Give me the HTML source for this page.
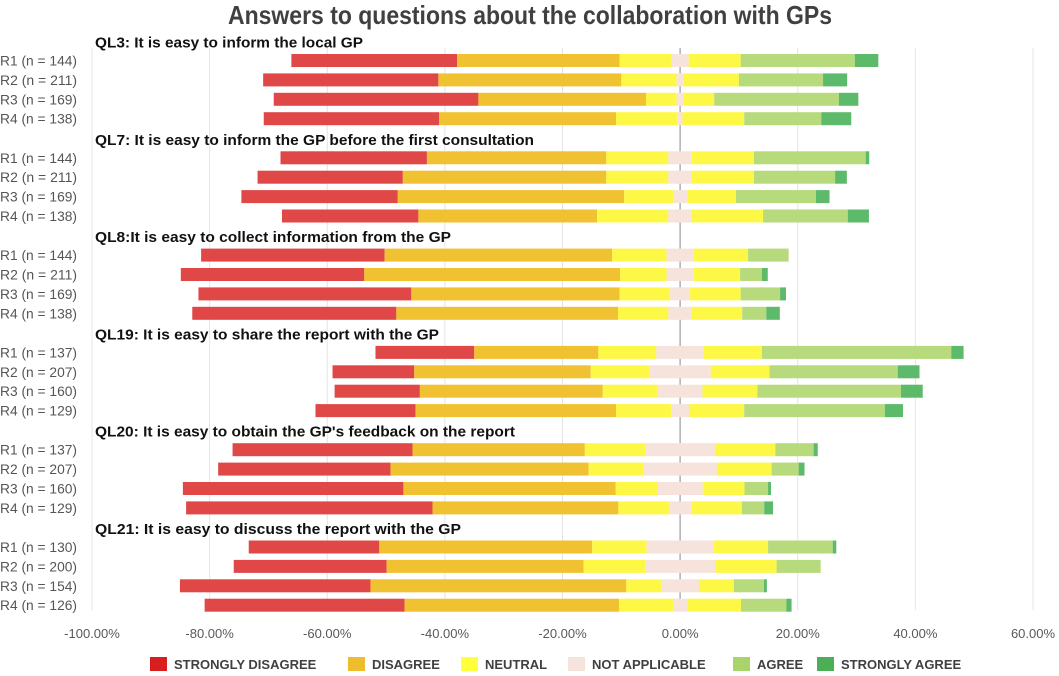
<!DOCTYPE html>
<html><head><meta charset="utf-8"><style>
html,body{margin:0;padding:0;background:#fff;}
svg{display:block;font-family:"Liberation Sans",sans-serif;}
</style></head><body>
<svg id="chart" width="1059" height="676" viewBox="0 0 1059 676" xmlns="http://www.w3.org/2000/svg">
<text x="530" y="24" text-anchor="middle" font-size="26" font-weight="bold" fill="#404040" textLength="604" lengthAdjust="spacingAndGlyphs">Answers to questions about the collaboration with GPs</text>
<g id="grid"></g><g id="bars"></g><g id="labels"></g><g id="legend"></g>
</svg>
<script>
const questions = ["QL3: It is easy to inform the local GP","QL7: It is easy to inform the GP before the first consultation","QL8:It is easy to collect information from the GP","QL19: It is easy to share the report with the GP","QL20: It is easy to obtain the GP's feedback on the report","QL21: It is easy to discuss the report with the GP"];
const rowLabels = [["R1 (n = 144)","R2 (n = 211)","R3 (n = 169)","R4 (n = 138)"],["R1 (n = 144)","R2 (n = 211)","R3 (n = 169)","R4 (n = 138)"],["R1 (n = 144)","R2 (n = 211)","R3 (n = 169)","R4 (n = 138)"],["R1 (n = 137)","R2 (n = 207)","R3 (n = 160)","R4 (n = 129)"],["R1 (n = 137)","R2 (n = 207)","R3 (n = 160)","R4 (n = 129)"],["R1 (n = 130)","R2 (n = 200)","R3 (n = 154)","R4 (n = 126)"]];
const stronglyDisagree = [28.2,29.8,34.8,29.8, 24.9,24.7,26.6,23.2, 31.2,31.2,36.2,34.7, 16.8,13.9,14.5,17.0, 30.6,29.3,37.5,41.9, 22.2,26.0,32.4,34.0];
const disagree = [27.6,31.1,28.5,30.1, 30.5,34.6,38.5,30.4, 38.7,43.5,35.4,37.7, 21.1,30.0,31.1,34.1, 29.3,33.7,36.1,31.6, 36.2,33.5,43.5,36.5];
const neutral = [17.7,18.8,10.4,21.0, 21.1,21.1,16.6,24.2, 18.5,15.8,17.2,17.1, 19.7,20.0,18.7,18.8, 20.6,18.6,14.2,17.2, 18.5,20.9,11.9,18.3];
const notApplicable = [2.9,1.2,1.2,0.8, 4.0,4.0,2.4,4.0, 4.6,4.6,3.4,4.0, 8.1,10.4,7.6,3.0, 11.8,12.5,7.7,3.8, 11.4,11.9,6.4,2.4];
const agree = [19.4,14.3,21.2,13.1, 19.0,13.8,13.6,14.4, 6.9,3.7,6.7,4.1, 32.2,21.8,24.4,23.9, 6.5,4.6,4.0,3.8, 11.0,7.5,5.1,7.7];
const stronglyAgree = [4.0,4.1,3.3,5.1, 0.6,2.0,2.3,3.6, 0,1.0,1.0,2.3, 2.1,3.7,3.7,3.1, 0.7,1.0,0.5,1.5, 0.6,0,0.5,0.9];
const ticks = [-100,-80,-60,-40,-20,0,20,40,60];
const tickLabels = ["-100.00%","-80.00%","-60.00%","-40.00%","-20.00%","0.00%","20.00%","40.00%","60.00%"];
const legendNames = ["STRONGLY DISAGREE","DISAGREE","NEUTRAL","NOT APPLICABLE","AGREE","STRONGLY AGREE"];

const colors = ["#e04848","#f0c232","#fdf845","#f6e3dc","#b6da7c","#5dba6a"];
const NS="http://www.w3.org/2000/svg";
const X0=92, X1=1033, VMIN=-100, VMAX=60;
function xs(v){return X0+(v-VMIN)*(X1-X0)/(VMAX-VMIN);}
function ys(g,r){return 60.5+g*97.3+r*19.4;}
function mk(tag,attrs,parent){const e=document.createElementNS(NS,tag);for(const k in attrs)e.setAttribute(k,attrs[k]);parent.appendChild(e);return e;}
const grid=document.getElementById('grid'),bars=document.getElementById('bars'),labels=document.getElementById('labels'),legend=document.getElementById('legend');
ticks.forEach((t,i)=>{
  const l=mk('line',{x1:xs(t),x2:xs(t),y1:48,y2:610,stroke:t===0?'#b0b0b0':'#e4e4e4','stroke-width':t===0?1.5:1},grid);
  
  
  const tx=mk('text',{x:xs(t),y:638,'text-anchor':'middle','font-size':13,fill:'#595959'},labels);
  tx.textContent=tickLabels[i];
  
  
});
const titleWidths=[268,439,356,344,420,366];
questions.forEach((q,g)=>{
  const t=mk('text',{x:95,y:ys(g,0)-13,'font-size':14.5,'font-weight':'bold',fill:'#111',textLength:titleWidths[g],lengthAdjust:'spacingAndGlyphs'},labels);
  t.textContent=q;
  
  
  for(let r=0;r<4;r++){
    const i=g*4+r, y=ys(g,r);
    const lb=mk('text',{x:0,y:y+5,'font-size':13.5,fill:'#555',textLength:77,lengthAdjust:'spacingAndGlyphs'},labels);
    lb.textContent=rowLabels[g][r];
    
    
    const sd=stronglyDisagree[i],d=disagree[i],n=neutral[i],na=notApplicable[i],a=agree[i],sa=stronglyAgree[i];
    let start=-(sd+d+n/2+na/2);
    const segs=[[sd,0],[d,1],[n/2,2],[na,3],[n/2,2],[a,4],[sa,5]];
    segs.forEach(([v,c])=>{
      if(v>0){
        const rc=mk('rect',{x:xs(start),y:y-6.5,width:xs(start+v)-xs(start),height:13,fill:colors[c]},bars);
        
        
      }
      start+=v;
    });
  }
});
const lgX=[150,348,461,568,733,817];
legendNames.forEach((n,i)=>{
  const r=mk('rect',{x:lgX[i],y:657,width:17,height:14,fill:['#d81e1e','#eebd2e','#ffff3a','#f6e3dc','#a9d46a','#4caf58'][i]},legend);
  
  
  const t=mk('text',{x:lgX[i]+24,y:669,'font-size':13,'font-weight':'bold',fill:'#404040'},legend);
  t.textContent=n;
  
  
});
</script>
</body></html>
